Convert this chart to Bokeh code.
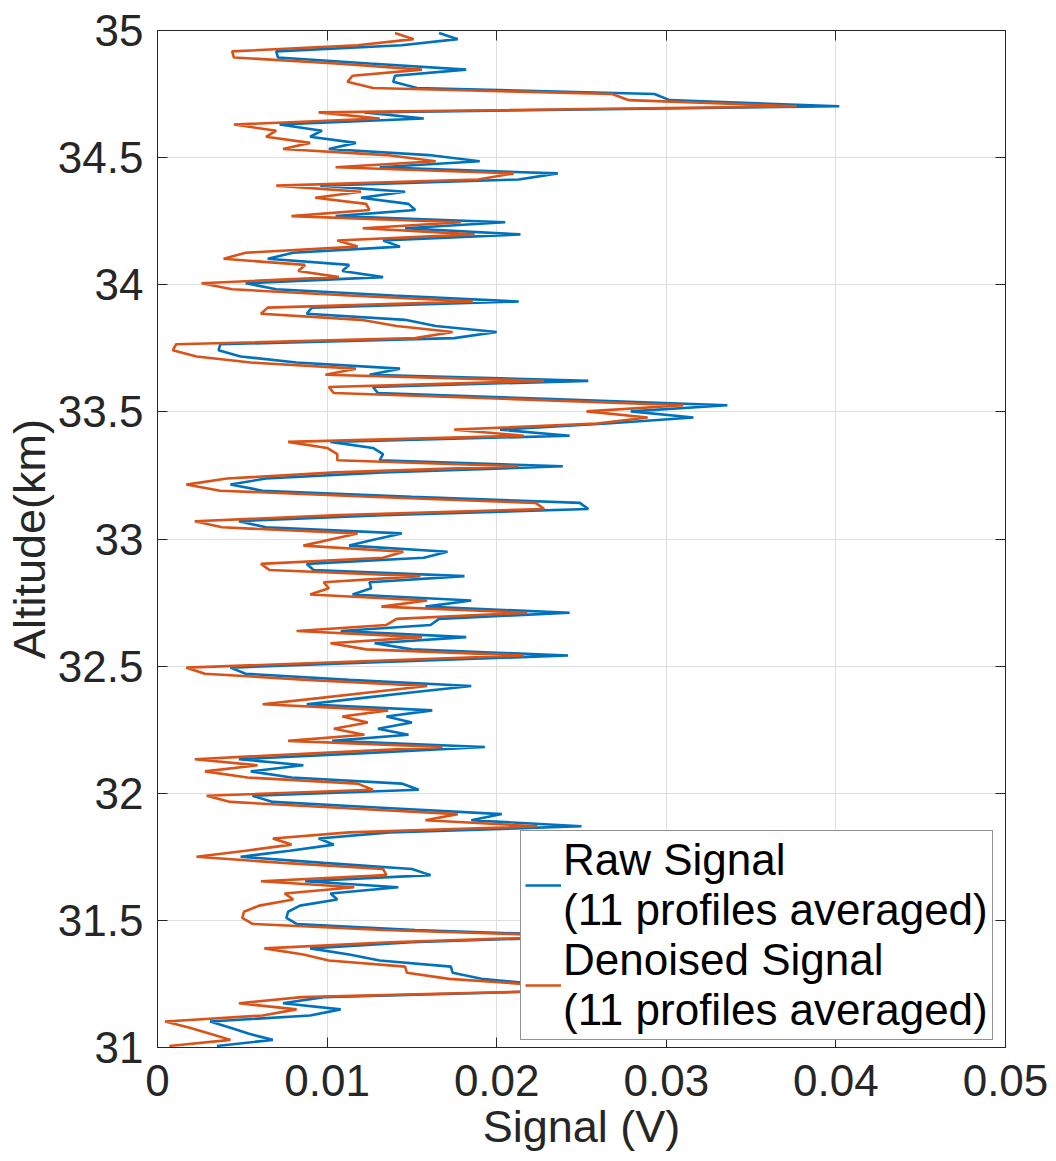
import numpy as np
from bokeh.plotting import figure
from bokeh.models import (FixedTicker, NumeralTickFormatter, LinearAxis, Legend,
                          LegendItem, Range1d)
from bokeh.embed import file_html
from bokeh.resources import INLINE

# ---- data (signal in mV) ----
raw_signal_mv = [
    16.6, 17.7, 14.4, 7.0, 7.1, 12.5, 18.2, 14.0, 13.9, 15.3,
    29.3, 30.2, 40.2, 12.2, 15.7, 7.2, 9.7, 9.0, 11.7, 10.1,
    16.0, 19.0, 13.1, 23.6, 21.3, 9.6, 14.6, 12.0, 14.8, 15.2,
    10.5, 20.5, 14.6, 21.4, 13.3, 14.3, 8.0, 6.5, 11.3, 10.9,
    13.3, 5.2, 7.0, 13.9, 21.3, 9.1, 8.8, 14.6, 16.4, 20.0,
    17.5, 3.7, 3.6, 4.9, 8.2, 14.3, 12.5, 25.4, 12.7, 13.0,
    23.3, 33.6, 27.9, 31.6, 26.5, 20.2, 24.3, 10.2, 12.7, 13.3,
    13.1, 23.9, 13.3, 6.4, 4.3, 6.2, 15.0, 24.9, 25.4, 13.3,
    4.8, 6.4, 14.4, 12.8, 11.3, 17.1, 15.7, 8.8, 9.2, 18.1,
    12.5, 12.6, 11.5, 18.5, 15.8, 24.3, 16.6, 16.1, 10.8, 18.2,
    12.8, 15.0, 24.2, 14.2, 4.3, 5.2, 11.3, 18.5, 15.2, 12.0,
    8.8, 16.2, 13.5, 15.0, 13.0, 14.8, 10.3, 19.3, 12.2, 4.8,
    8.6, 5.5, 7.9, 14.4, 15.4, 5.6, 6.8, 13.5, 20.3, 18.5,
    25.0, 13.7, 9.5, 10.4, 7.8, 4.9, 9.8, 15.0, 16.1, 8.7,
    14.2, 10.2, 10.6, 8.4, 7.7, 7.6, 8.2, 15.2, 26.0, 15.0,
    9.0, 11.3, 13.1, 17.3, 17.4, 19.1, 23.0, 23.5, 9.8, 7.4,
    10.8, 9.0, 3.1, 4.3, 5.4, 6.8, 3.5,
]
denoised_signal_mv = [
    14.0, 15.1, 11.8, 4.4, 4.5, 10.5, 15.6, 11.5, 11.2, 12.7,
    26.8, 27.8, 37.7, 9.5, 13.1, 4.5, 7.0, 6.4, 9.0, 7.4,
    13.5, 16.4, 10.5, 21.0, 18.9, 7.0, 12.0, 9.3, 12.3, 12.5,
    7.9, 17.9, 12.1, 18.7, 10.6, 11.8, 5.2, 3.9, 8.7, 8.3,
    10.7, 2.6, 4.4, 11.3, 18.6, 6.5, 6.1, 12.0, 14.1, 17.4,
    15.2, 1.1, 0.9, 2.3, 5.5, 11.7, 9.9, 22.8, 10.1, 10.4,
    21.0, 31.0, 25.3, 28.9, 25.9, 17.5, 21.6, 7.7, 10.0, 10.6,
    10.6, 21.3, 10.5, 4.1, 1.7, 3.7, 12.5, 22.3, 22.8, 10.7,
    2.2, 3.8, 11.8, 10.2, 8.6, 14.5, 13.3, 6.1, 6.6, 15.5,
    9.8, 10.1, 9.0, 15.9, 13.2, 21.8, 14.1, 13.5, 8.2, 15.6,
    10.2, 12.3, 21.6, 11.7, 1.7, 2.8, 8.8, 15.9, 12.7, 9.5,
    6.2, 13.6, 10.9, 12.4, 10.4, 12.2, 7.7, 16.8, 9.5, 2.2,
    5.9, 2.8, 5.3, 11.8, 12.7, 2.9, 4.3, 10.9, 17.7, 15.8,
    22.4, 11.3, 6.8, 7.9, 5.2, 2.3, 7.4, 13.3, 13.5, 6.1,
    11.6, 7.5, 8.0, 6.0, 5.1, 5.0, 5.6, 13.3, 25.0, 13.7,
    6.3, 8.6, 10.1, 14.6, 14.7, 17.2, 22.5, 23.0, 8.5, 4.8,
    8.2, 6.2, 0.45, 1.9, 3.1, 4.3, 0.7,
]
# range bins: uniform lidar altitude grid (km), top bin 34.99 km, 24 m step
alt_top_km = 34.99
alt_step_km = 0.024

x_ticks = [0, 0.01, 0.02, 0.03, 0.04, 0.05]
y_ticks = [31, 31.5, 32, 32.5, 33, 33.5, 34, 34.5, 35]
series_labels = ["Raw Signal\n(11 profiles averaged)",
                 "Denoised Signal\n(11 profiles averaged)"]

n = min(len(raw_signal_mv), len(denoised_signal_mv))
alt = np.round(alt_top_km - alt_step_km * np.arange(n), 4)
raw_v = np.array(raw_signal_mv[:n]) / 1000.0
den_v = np.array(denoised_signal_mv[:n]) / 1000.0

FONT = "Liberation Sans"
AX = "#262626"

p = figure(width=1056, height=1161, x_range=Range1d(0, 0.05), y_range=Range1d(31, 35),
           output_backend="svg", toolbar_location=None,
           min_border_left=155, min_border_right=51, min_border_top=30, min_border_bottom=114,
           x_axis_label="Signal (V)", y_axis_label="Altitude(km)")
p.background_fill_color = "white"
p.border_fill_color = "white"
p.outline_line_color = AX
p.outline_line_width = 1

r1 = p.line(raw_v, alt, line_color="#0072BD", line_width=2.6)
r2 = p.line(den_v, alt, line_color="#D95319", line_width=2.6)

for ax, tk, fmt in ((p.xaxis[0], x_ticks, "0.[00]"), (p.yaxis[0], y_ticks, "0.[0]")):
    ax.ticker = FixedTicker(ticks=tk)
    ax.formatter = NumeralTickFormatter(format=fmt)
    ax.major_tick_in = 10
    ax.major_tick_out = 0
    ax.minor_tick_in = 0
    ax.minor_tick_out = 0
    ax.axis_line_color = AX
    ax.major_tick_line_color = AX
    ax.major_label_text_font = FONT
    ax.major_label_text_font_size = "44px"
    ax.major_label_text_color = AX
    ax.axis_label_text_font = FONT
    ax.axis_label_text_font_size = "45px"
    ax.axis_label_text_color = AX
    ax.axis_label_text_font_style = "normal"
p.xaxis[0].major_label_standoff = 17
p.xaxis[0].axis_label_standoff = 2
p.yaxis[0].major_label_standoff = 14
p.yaxis[0].axis_label_standoff = 0

# mirrored ticks on top and right (box on)
for tk, side in ((x_ticks, "above"), (y_ticks, "right")):
    a = LinearAxis(ticker=FixedTicker(ticks=tk), major_tick_in=10, major_tick_out=0,
                   minor_tick_in=0, minor_tick_out=0, axis_line_color=AX,
                   major_tick_line_color=AX, major_label_text_font_size="0px",
                   major_label_standoff=0)
    p.add_layout(a, side)

p.xgrid.ticker = FixedTicker(ticks=x_ticks)
p.ygrid.ticker = FixedTicker(ticks=y_ticks)
p.grid.grid_line_color = "#dedede"
p.grid.grid_line_width = 1

legend = Legend(items=[LegendItem(label=series_labels[0], renderers=[r1]),
                       LegendItem(label=series_labels[1], renderers=[r2])],
                location=(363, 7), margin=0, padding=4, spacing=0,
                label_text_font=FONT, label_text_font_size="44px", label_text_color="black",
                label_standoff=2, glyph_width=36, glyph_height=40,
                border_line_color=AX, border_line_width=1,
                background_fill_color="white", background_fill_alpha=1.0)
p.add_layout(legend)

open("out.html", "w").write(file_html(p, INLINE))
